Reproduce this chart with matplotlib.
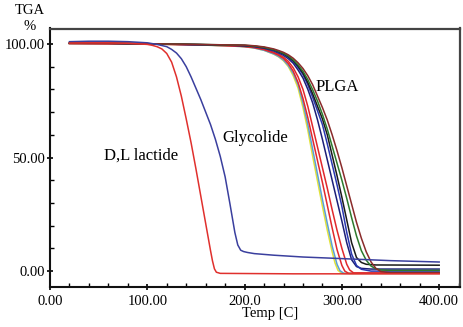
import matplotlib.pyplot as plt
from matplotlib.ticker import MultipleLocator, FixedLocator

# D,L lactide (red) and glycolide (blue).
lactide_t = [20, 40, 60, 80, 100, 105, 110, 115, 120, 125, 130, 135, 140, 145, 150, 155, 160, 165, 167, 169, 171, 175, 250, 400]
lactide_v = [100.4, 100.5, 100.5, 100.3, 99.8, 99.4, 98.8, 97.8, 95.8, 92.0, 85.5, 77.0, 67.0, 56.5, 45.0, 33.0, 21.0, 9.0, 4.5, 1.0, -0.5, -1.0, -1.2, -1.2]

glycolide_t = [20, 40, 60, 80, 100, 110, 120, 125, 130, 135, 140, 145, 150, 155, 160, 165, 170, 175, 180, 185, 190, 193, 196, 199, 203, 210, 230, 260, 300, 350, 400]
glycolide_v = [101.0, 101.2, 101.2, 101.0, 100.5, 99.8, 98.8, 97.6, 96.0, 93.5, 90.0, 85.5, 80.5, 75.5, 70.0, 64.5, 58.0, 50.5, 41.5, 29.5, 17.0, 11.5, 9.2, 8.6, 8.2, 7.7, 7.0, 6.2, 5.5, 4.6, 4.0]

# PLGA runs, one pair of lists per curve.
plga_yellow_t = [20, 60, 100, 150, 180, 200, 210, 220, 230, 235, 240, 245, 250, 255, 260, 265, 270, 275, 280, 285, 290, 293, 296, 300, 400]
plga_yellow_v = [100.2, 100.1, 100.0, 99.6, 99.2, 98.8, 98.2, 97.2, 95.5, 94.3, 92.6, 90.0, 86.0, 80.5, 72.0, 62.0, 50.5, 39.5, 28.5, 18.0, 8.5, 3.5, 0.3, -1.0, -1.0]

plga_lblue_t = [20, 60, 100, 150, 180, 200, 210, 220, 230, 235, 240, 245, 250, 255, 260, 265, 270, 275, 280, 285, 290, 295, 298, 302, 400]
plga_lblue_v = [100.2, 100.1, 100.0, 99.6, 99.2, 98.8, 98.2, 97.2, 95.6, 94.5, 92.9, 90.5, 87.0, 82.0, 74.0, 64.5, 53.5, 42.5, 31.5, 21.0, 11.0, 3.0, 0.2, -1.0, -1.0]

plga_red1_t = [20, 60, 100, 150, 180, 200, 210, 220, 230, 235, 240, 245, 250, 255, 260, 265, 270, 275, 280, 285, 290, 295, 300, 303, 307, 400]
plga_red1_v = [100.2, 100.1, 100.0, 99.6, 99.3, 98.9, 98.4, 97.5, 96.0, 95.0, 93.6, 91.3, 88.0, 83.0, 76.0, 67.5, 58.0, 48.5, 39.0, 29.0, 19.0, 9.5, 2.5, 0.0, -1.0, -1.0]

plga_red2_t = [20, 60, 100, 150, 180, 200, 210, 220, 230, 235, 240, 245, 250, 255, 260, 265, 270, 275, 280, 285, 290, 295, 300, 305, 308, 312, 400]
plga_red2_v = [100.2, 100.1, 100.0, 99.6, 99.3, 98.9, 98.5, 97.7, 96.3, 95.4, 94.2, 92.3, 89.5, 85.5, 80.0, 72.5, 63.5, 54.5, 45.5, 36.5, 27.0, 18.0, 10.0, 3.0, 0.5, -0.8, -0.8]

plga_navy_t = [20, 60, 100, 150, 180, 200, 210, 220, 230, 235, 240, 245, 250, 255, 260, 265, 270, 275, 280, 285, 290, 295, 300, 305, 310, 315, 320, 330, 400]
plga_navy_v = [100.3, 100.3, 100.1, 99.7, 99.5, 99.2, 98.8, 98.1, 96.9, 96.0, 95.0, 93.5, 91.5, 88.5, 85.0, 80.0, 74.0, 66.5, 58.0, 49.0, 40.0, 31.0, 22.0, 12.5, 5.0, 2.0, 1.2, 0.9, 0.9]

plga_blue_t = [20, 60, 100, 150, 180, 200, 210, 220, 230, 235, 240, 245, 250, 255, 260, 265, 270, 275, 280, 285, 290, 295, 300, 305, 310, 315, 320, 330, 400]
plga_blue_v = [100.3, 100.3, 100.1, 99.7, 99.5, 99.3, 98.9, 98.3, 97.2, 96.4, 95.4, 94.0, 92.2, 89.6, 86.5, 82.0, 76.5, 70.5, 64.5, 56.0, 47.0, 38.0, 28.5, 17.0, 7.5, 2.5, 0.8, 0.0, 0.0]

plga_black_t = [20, 60, 100, 150, 180, 200, 210, 220, 230, 235, 240, 245, 250, 255, 260, 265, 270, 275, 280, 285, 290, 295, 300, 305, 310, 315, 320, 325, 335, 400]
plga_black_v = [100.3, 100.3, 100.1, 99.8, 99.5, 99.3, 99.0, 98.4, 97.4, 96.6, 95.7, 94.4, 92.6, 90.2, 87.2, 83.0, 78.0, 72.5, 67.0, 60.0, 51.0, 42.0, 32.5, 22.5, 12.5, 6.0, 3.8, 3.0, 2.7, 2.6]

plga_green_t = [20, 60, 100, 150, 180, 200, 210, 220, 230, 235, 240, 245, 250, 255, 260, 265, 270, 275, 280, 285, 290, 295, 300, 305, 310, 315, 320, 325, 330, 335, 340, 350, 400]
plga_green_v = [100.3, 100.3, 100.1, 99.8, 99.6, 99.4, 99.1, 98.5, 97.5, 96.8, 95.9, 94.7, 93.0, 90.8, 88.0, 84.3, 79.8, 74.8, 69.0, 62.5, 55.0, 47.5, 40.0, 32.0, 23.5, 15.5, 9.0, 4.8, 2.2, 1.0, 0.5, 0.3, 0.3]

plga_brown_t = [20, 60, 100, 150, 180, 200, 210, 220, 230, 235, 240, 245, 250, 255, 260, 265, 270, 275, 280, 285, 290, 295, 300, 305, 310, 315, 320, 325, 330, 335, 340, 350, 400]
plga_brown_v = [100.3, 100.3, 100.1, 99.8, 99.6, 99.5, 99.2, 98.7, 97.8, 97.1, 96.3, 95.2, 93.7, 91.7, 89.2, 86.0, 82.0, 77.0, 72.0, 66.5, 60.0, 53.0, 45.5, 37.5, 29.5, 21.5, 14.5, 8.5, 4.0, 1.2, -0.2, -0.7, -0.7]

x_ticks = [0, 100, 200, 300, 400]
x_labels = ['0.00', '100.00', '200.0', '300.00', '400.00']
y_ticks = [0, 50, 100]
y_labels = ['0.00', '50.00', '100.00']

plt.rcParams['font.family'] = ['Liberation Serif', 'DejaVu Serif']

fig = plt.figure(figsize=(4.64, 3.27), dpi=100)
ax = fig.add_axes([50 / 464, 40 / 327, 410 / 464, 258.5 / 327])

lw = 1.1
plga = [
    (plga_yellow_t, plga_yellow_v, '#e2e23a'),
    (plga_lblue_t, plga_lblue_v, '#5a9fd6'),
    (plga_red1_t, plga_red1_v, '#e0282c'),
    (plga_red2_t, plga_red2_v, '#e0282c'),
    (plga_navy_t, plga_navy_v, '#1c1f78'),
    (plga_blue_t, plga_blue_v, '#2a38b0'),
    (plga_black_t, plga_black_v, '#1a1a1a'),
    (plga_green_t, plga_green_v, '#2d7a2d'),
    (plga_brown_t, plga_brown_v, '#8a2b2b'),
]
for t, v, c in plga:
    ax.plot(t, v, color=c, lw=lw, solid_joinstyle='round')
ax.plot(glycolide_t, glycolide_v, color='#3a3f9e', lw=lw, solid_joinstyle='round')
ax.plot(lactide_t, lactide_v, color='#e0302d', lw=lw, solid_joinstyle='round')

ax.set_xlim(0, 421.4)
ax.set_ylim(-7.0, 106.8)

ax.xaxis.set_major_locator(FixedLocator(x_ticks))
ax.set_xticklabels(x_labels)
ax.xaxis.set_minor_locator(MultipleLocator(20))
ax.yaxis.set_major_locator(FixedLocator(y_ticks))
ax.set_yticklabels(y_labels)
ax.yaxis.set_minor_locator(MultipleLocator(10))

ax.tick_params(which='major', direction='inout', length=5, width=1.2, labelsize=10.5, pad=3)
ax.tick_params(which='minor', direction='in', length=3, width=1.0)
ax.tick_params(axis='y', which='major', pad=1)
ax.tick_params(top=False, right=False, which='both')

for side in ['left', 'bottom']:
    ax.spines[side].set_linewidth(1.5)
    ax.spines[side].set_color('#111111')
for side in ['top', 'right']:
    ax.spines[side].set_linewidth(1.6)
    ax.spines[side].set_color('#444444')

ax.text(295, 81, 'PLGA', fontsize=12, ha='center', va='center')
ax.text(211, 58.6, 'Glycolide', fontsize=12, ha='center', va='center')
ax.text(93.5, 51, 'D,L lactide', fontsize=12, ha='center', va='center')

fig.text(30 / 464, 1 - 10 / 327, 'TGA', fontsize=10.5, ha='center', va='center')
fig.text(30 / 464, 1 - 26 / 327, '%', fontsize=10.5, ha='center', va='center')
fig.text(270 / 464, 1 - 314 / 327, 'Temp [C]', fontsize=10.5, ha='center', va='center')

fig.savefig('out.png', dpi=100)
